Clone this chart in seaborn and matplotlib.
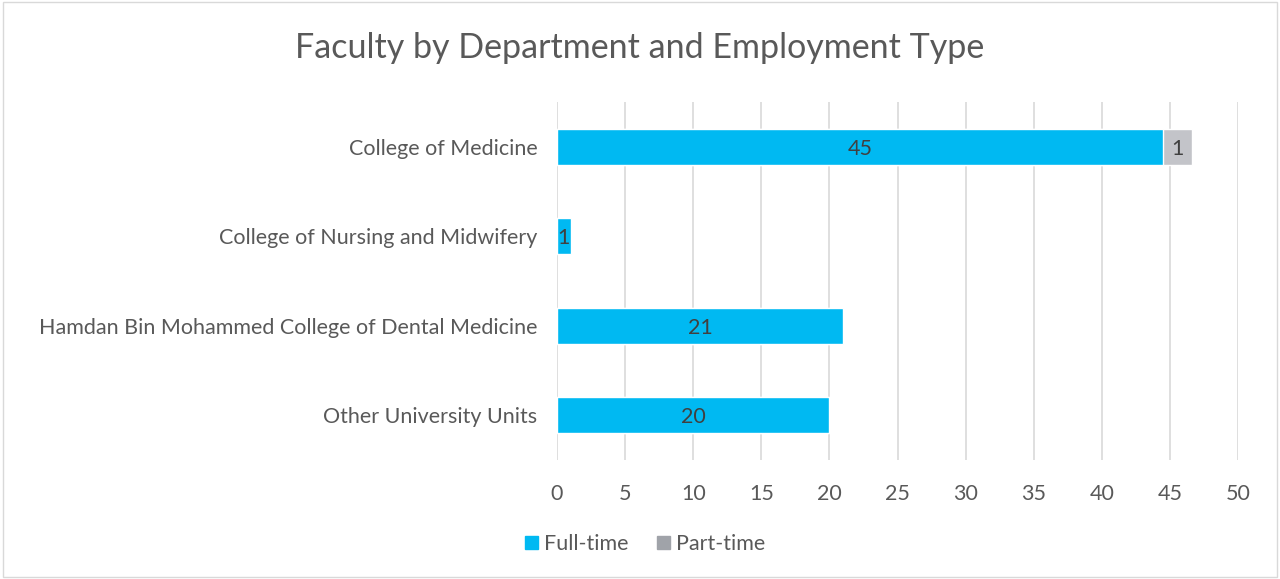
import matplotlib
matplotlib.use("Agg")
import matplotlib.pyplot as plt
import matplotlib.patches as mpatches
import seaborn as sns
import pandas as pd

# data
departments = [
    "College of Medicine",
    "College of Nursing and Midwifery",
    "Hamdan Bin Mohammed College of Dental Medicine",
    "Other University Units",
]
full_time = [44.5, 1, 21, 20]
part_time = [2.1, 0, 0, 0]
full_labels = ["45", "1", "21", "20"]
part_labels = ["1", "", "", ""]

df = pd.DataFrame({"dept": departments, "full": full_time, "part": part_time})
df["total"] = df["full"] + df["part"]

blue = "#00B9F2"
grey = "#C3C4C9"
grey_legend = "#A0A3A9"
text_col = "#595959"

sns.set_style("white")
plt.rcParams["font.family"] = ["Lato", "DejaVu Sans"]

fig = plt.figure(figsize=(12.8, 5.79), dpi=100)
ax = fig.add_axes([557 / 1280, 1 - 460 / 579, (1238 - 557) / 1280, (460 - 102) / 579])

# stacked bars: total (grey) under full-time (blue)
sns.barplot(data=df, x="total", y="dept", color=grey, width=0.4, ax=ax,
            saturation=1, zorder=2)
sns.barplot(data=df, x="full", y="dept", color=blue, width=0.4, ax=ax,
            saturation=1, zorder=3)

# labels
for i, row in df.iterrows():
    ax.text(row["full"] / 2, i + 0.02, full_labels[i], ha="center", va="center",
            fontsize=15.5, color="#404040", zorder=5)
    if part_labels[i]:
        ax.text(row["full"] + row["part"] / 2, i + 0.02, part_labels[i], ha="center",
                va="center", fontsize=15.5, color="#404040", zorder=5)

ax.set_xlim(0, 50)
ax.set_ylim(3.5, -0.5)
ax.set_xticks(range(0, 51, 5))
ax.xaxis.grid(True, color="#D9D9D9", linewidth=1.2, zorder=0)
ax.set_axisbelow(True)
for s in ax.spines.values():
    s.set_visible(False)
ax.set_xlabel("")
ax.set_ylabel("")
ax.tick_params(axis="x", labelsize=15.5, colors=text_col, length=0, pad=17)
ax.tick_params(axis="y", labelsize=15.5, colors=text_col, length=0, pad=14)

fig.text(0.5, 1 - 48 / 579, "Faculty by Department and Employment Type",
         ha="center", va="center", fontsize=24.5, color=text_col)

handles = [mpatches.Patch(color=blue, label="Full-time"),
           mpatches.Patch(color=grey_legend, label="Part-time")]
fig.legend(handles=handles, loc="center", bbox_to_anchor=(645 / 1280, 1 - 544 / 579),
           ncol=2, frameon=False, fontsize=15.5, labelcolor=text_col,
           handlelength=0.6, handleheight=0.6, handletextpad=0.3, columnspacing=1.3)

# outer border
fig.patches.append(mpatches.Rectangle((0.002, 0.003), 0.996, 0.994, transform=fig.transFigure,
                                      fill=False, edgecolor="#D9D9D9", linewidth=1))

fig.savefig("out.png", dpi=100)
